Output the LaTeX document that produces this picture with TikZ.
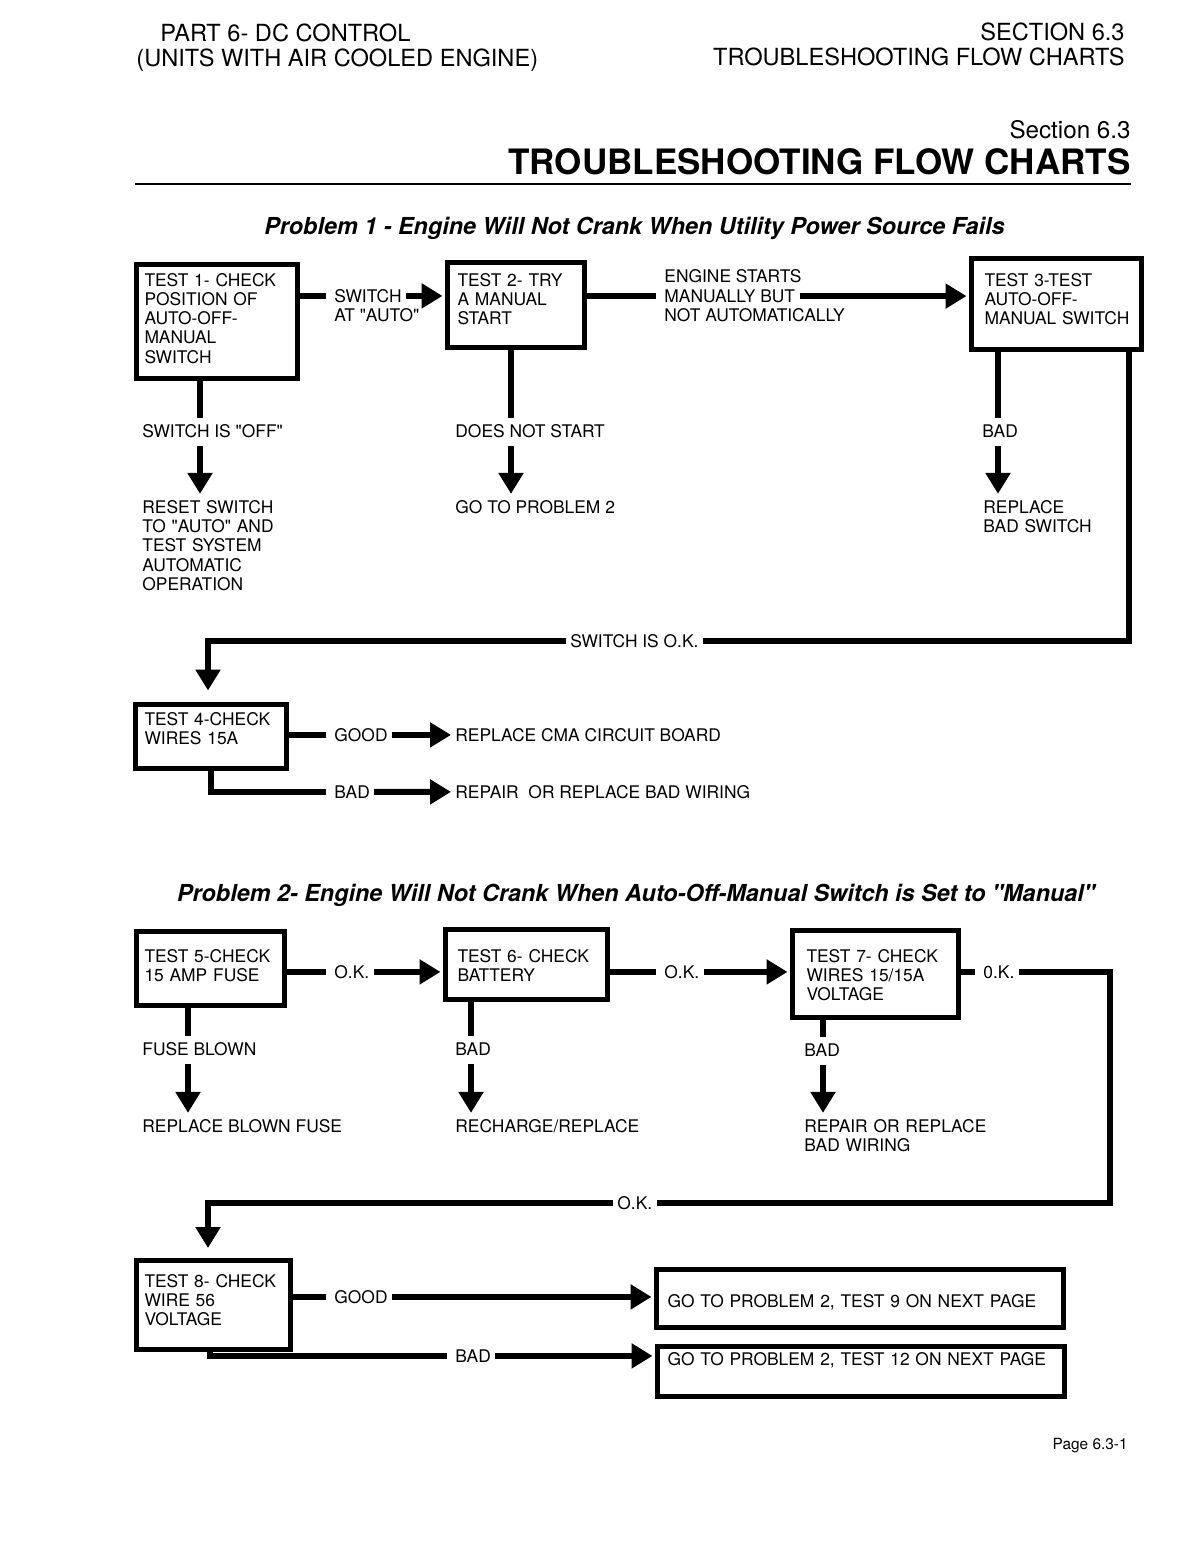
\documentclass[tikz,border=0pt]{standalone}
\usepackage{fontspec}
\setmainfont{TeX Gyre Heros}
\usetikzlibrary{arrows.meta}

\begin{document}
\begin{tikzpicture}[x=0.5pt,y=-0.5pt]
\tikzstyle{every node}=[inner sep=0pt, font=\fontsize{8.7pt}{9.65pt}\selectfont]
\tikzstyle{txt}=[anchor=base west, inner xsep=2pt]
\tikzstyle{lines}=[txt, text width=130pt, align=left]
\tikzstyle{conn}=[line width=3pt]
\tikzstyle{stub}=[conn, shorten >=2pt]
\tikzstyle{arr}=[conn, -{Triangle[length=10.5pt,width=12pt]}]
\tikzset{tbox/.style n args={4}{draw, line width=2.5pt, anchor=north west, align=left,
    inner ysep=0pt, inner xsep=#2, text width=#1-2*#2, text height=#3, text depth=#4}}

\fill[white] (0,0) rectangle (1187,1544);
\useasboundingbox (0,0) rectangle (1187,1544);

% page head
\node[anchor=base west, font=\fontsize{11.8pt}{14pt}\selectfont] (part) at (160,41.5) {PART 6- DC CONTROL};
\node[anchor=base west, font=\fontsize{11.8pt}{14pt}\selectfont] (units) at (136,66.5) {(UNITS WITH AIR COOLED ENGINE)};
\node[anchor=base east, font=\fontsize{11.8pt}{14pt}\selectfont] (sec) at (1125,40.5) {SECTION 6.3};
\node[anchor=base east, font=\fontsize{11.8pt}{14pt}\selectfont] (secname) at (1125,65.5) {TROUBLESHOOTING FLOW CHARTS};
\node[anchor=base east, font=\fontsize{12.1pt}{14pt}\selectfont] (section) at (1131,138.5) {Section 6.3};
\node[anchor=base east, font=\fontsize{17.5pt}{20pt}\selectfont\bfseries] (title) at (1131,174.5) {TROUBLESHOOTING FLOW CHARTS};
\draw[line width=1.25pt] (135,184) -- (1131,184);

% problem 1
\node[anchor=base, font=\fontsize{11.7pt}{14pt}\selectfont\bfseries\itshape] (prob1) at (634.5,234)
  {Problem 1 - Engine Will Not Crank When Utility Power Source Fails};

\node[tbox={80.5pt}{4.25pt}{11pt}{46pt}] (T1) at (133.5,261.5) {TEST 1- CHECK\\POSITION OF\\AUTO-OFF-\\MANUAL\\SWITCH};
\node[tbox={68.5pt}{5.25pt}{12pt}{30.5pt}] (T2) at (444.5,259.5) {TEST 2- TRY\\A MANUAL\\START};
\node[tbox={85pt}{6.75pt}{14pt}{31.5pt}] (T3) at (968.5,255.5) {TEST 3-TEST\\AUTO-OFF-\\MANUAL~SWITCH};
\node[tbox={75.5pt}{4.75pt}{10.5pt}{21.5pt}] (T4) at (132.5,701.5) {TEST 4-CHECK\\WIRES 15A};

\node[txt] (swa) at (330,302.25) {SWITCH};
\node[txt] (swb) at (330,321.5) {AT \textquotedbl AUTO\textquotedbl};
\node[txt] (es1) at (660,282.5) {ENGINE STARTS};
\node[txt] (es2) at (660,302.25) {MANUALLY BUT};
\node[txt] (es3) at (660,321.5) {NOT AUTOMATICALLY};
\node[txt] (off) at (138,437.25) {SWITCH IS \textquotedbl OFF\textquotedbl};
\node[lines] (reset) at (138,513.25) {RESET SWITCH\\TO \textquotedbl AUTO\textquotedbl\ AND\\TEST SYSTEM\\AUTOMATIC\\OPERATION};
\node[txt] (dns) at (451,437.25) {DOES NOT START};
\node[txt] (gp2) at (451,513.25) {GO TO PROBLEM 2};
\node[txt] (bad3) at (978,437.25) {BAD};
\node[lines] (rbs) at (979,513.25) {REPLACE\\BAD SWITCH};
\node[txt] (swok) at (566,647.25) {SWITCH IS O.K.};
\node[txt] (good) at (330,741.25) {GOOD};
\node[txt] (rcb) at (451,741.25) {REPLACE CMA CIRCUIT BOARD};
\node[txt] (bad4) at (330,798.25) {BAD};
\node[txt] (rbw) at (451,798.25) {REPAIR~ OR REPLACE BAD WIRING};

\draw[stub] (swa.west -| T1.east) -- (swa.west);
\draw[arr, shorten >=1pt] (swa.east) -- (swa.east -| T2.west);
\draw[stub] (es2.west -| T2.east) -- (es2.west);
\draw[arr, shorten >=1pt] (es2.east) -- (es2.east -| T3.west);

\coordinate (d1) at ([xshift=33.25pt]T1.south west);
\draw[stub, shorten >=3pt] (d1) -- (d1 |- off.north);
\draw[arr, shorten <=4pt, shorten >=3pt] (d1 |- off.south) -- (d1 |- reset.north);
\coordinate (d2) at ([xshift=33.25pt]T2.south west);
\draw[stub, shorten >=3pt] (d2) -- (d2 |- dns.north);
\draw[arr, shorten <=4pt, shorten >=3pt] (d2 |- dns.south) -- (d2 |- gp2.north);
\coordinate (d3) at ([xshift=14.75pt]T3.south west);
\draw[stub, shorten >=3pt] (d3) -- (d3 |- bad3.north);
\draw[arr, shorten <=4pt, shorten >=3pt] (d3 |- bad3.south) -- (d3 |- rbs.north);

\coordinate (d3r) at ([xshift=-7.25pt]T3.south east);
\draw[conn] (d3r) |- (swok.east);
\coordinate (d4) at ([xshift=37.75pt]T4.north west);
\draw[arr, shorten >=5.5pt] (swok.west) -| (d4);

\draw[stub] (good.west -| T4.east) -- (good.west);
\draw[arr] (good.east) -- (rcb.west);
\coordinate (d4b) at ([xshift=39.25pt]T4.south west);
\draw[stub] (d4b) |- (bad4.west);
\draw[arr] (bad4.east) -- (rbw.west);

% problem 2
\node[anchor=base, font=\fontsize{11.7pt}{14pt}\selectfont\bfseries\itshape] (prob2) at (636,901.5)
  {Problem 2- Engine Will Not Crank When Auto-Off-Manual Switch is Set to \textquotedbl Manual\textquotedbl};

\node[tbox={74pt}{4.25pt}{15.5pt}{21.5pt}] (T5) at (133.5,928.5) {TEST 5-CHECK\\15 AMP FUSE};
\node[tbox={81pt}{6.25pt}{16.5pt}{18.5pt}] (T6) at (442.5,926.5) {TEST 6- CHECK\\BATTERY};
\node[tbox={83pt}{7.25pt}{16pt}{27.5pt}] (T7) at (789.5,927.5) {TEST 7- CHECK\\WIRES 15/15A\\VOLTAGE};
\node[tbox={77pt}{4.25pt}{13.5pt}{31pt}] (T8) at (133.5,1257.5) {TEST 8- CHECK\\WIRE 56\\VOLTAGE};
\node[tbox={203.5pt}{5.75pt}{19pt}{10pt}] (G9) at (653.5,1266.5) {GO TO PROBLEM 2, TEST 9 ON NEXT PAGE};
\node[tbox={203.5pt}{5.25pt}{9.5pt}{15.5pt}] (G12) at (654.5,1343.5) {GO TO PROBLEM 2, TEST 12 ON NEXT PAGE};

\node[txt] (ok5) at (330,978.25) {O.K.};
\node[txt] (ok6) at (660,978.25) {O.K.};
\node[txt] (ok7) at (979,978.25) {0.K.};
\node[txt] (okb) at (613,1209.25) {O.K.};
\node[txt] (fb) at (138,1055.25) {FUSE BLOWN};
\node[txt] (rbf) at (138,1132.25) {REPLACE BLOWN FUSE};
\node[txt] (bad6) at (451,1055.25) {BAD};
\node[txt] (rr) at (451,1132.25) {RECHARGE/REPLACE};
\node[txt] (bad7) at (800,1056.25) {BAD};
\node[lines] (rrw) at (800,1132.25) {REPAIR OR REPLACE\\BAD WIRING};
\node[txt] (good8) at (330,1303.25) {GOOD};
\node[txt] (bad8) at (451,1362.25) {BAD};

\draw[stub] (ok5.west -| T5.east) -- (ok5.west);
\draw[arr, shorten >=1pt] (ok5.east) -- (ok5.east -| T6.west);
\draw[stub] (ok6.west -| T6.east) -- (ok6.west);
\draw[arr, shorten >=1pt] (ok6.east) -- (ok6.east -| T7.west);
\draw[stub] (ok7.west -| T7.east) -- (ok7.west);
\coordinate (c7) at (1110,974);
\draw[conn] (ok7.east) -| (c7 |- okb.east) -- (okb.east);
\coordinate (d8) at ([xshift=37.25pt]T8.north west);
\draw[arr, shorten >=4.75pt] (okb.west) -| (d8);

\coordinate (d5) at ([xshift=27.25pt]T5.south west);
\draw[stub, shorten >=3pt] (d5) -- (d5 |- fb.north);
\draw[arr, shorten <=4pt, shorten >=3pt] (d5 |- fb.south) -- (d5 |- rbf.north);
\coordinate (d6) at ([xshift=14.25pt]T6.south west);
\draw[stub, shorten >=3pt] (d6) -- (d6 |- bad6.north);
\draw[arr, shorten <=4pt, shorten >=3pt] (d6 |- bad6.south) -- (d6 |- rr.north);
\coordinate (d7) at ([xshift=16.75pt]T7.south west);
\draw[stub, shorten >=3pt] (d7) -- (d7 |- bad7.north);
\draw[arr, shorten <=4pt, shorten >=3pt] (d7 |- bad7.south) -- (d7 |- rrw.north);

\draw[stub] (good8.west -| T8.east) -- (good8.west);
\draw[arr, shorten >=1pt] (good8.east) -- (good8.east -| G9.west);
\coordinate (d8b) at ([xshift=38.25pt]T8.south west);
\draw[stub] (d8b) |- (bad8.west);
\draw[arr, shorten >=1pt] (bad8.east) -- (bad8.east -| G12.west);

\node[anchor=base east, font=\fontsize{7.7pt}{9pt}\selectfont] (page) at (1128,1449.5) {Page 6.3-1};
\end{tikzpicture}
\end{document}
